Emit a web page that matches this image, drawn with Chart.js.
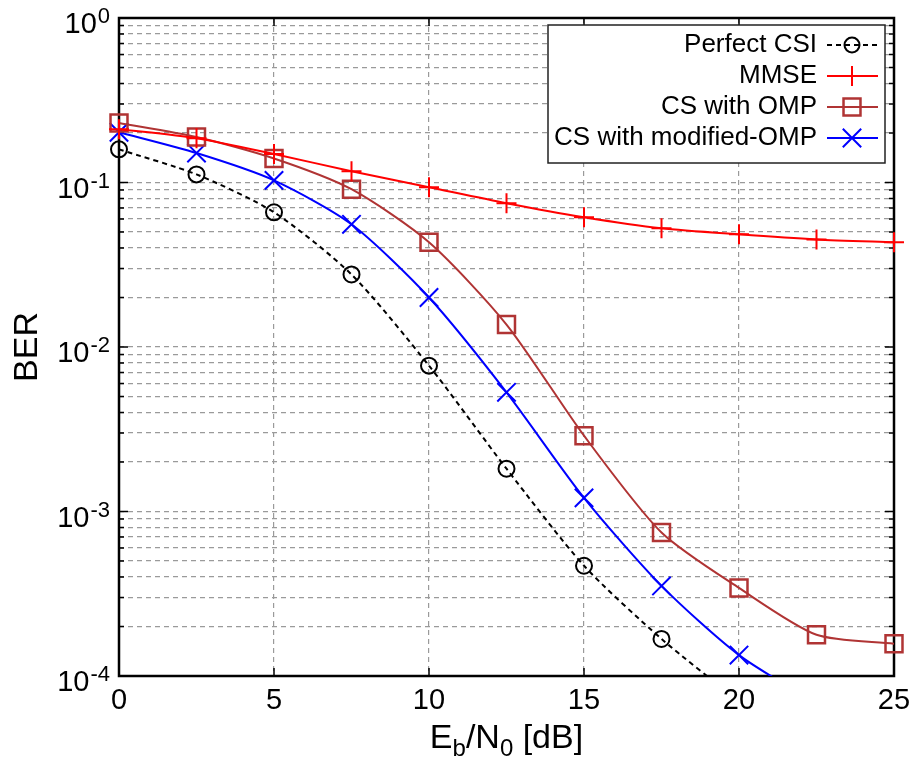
<!DOCTYPE html>
<html>
<head>
<meta charset="utf-8">
<script src="https://cdn.jsdelivr.net/npm/chart.js@4/dist/chart.umd.min.js"></script>
<style>
  html, body { margin: 0; padding: 0; background: #fff; }
  #wrap { width: 919px; height: 760px; position: relative; }
</style>
</head>
<body>
<div id="wrap"><canvas id="ber-chart"></canvas></div>
<script>
// Data
const ebN0 = [0, 2.5, 5, 7.5, 10, 12.5, 15, 17.5, 20, 22.5, 25];
const perfectCsi = [0.159, 0.112, 0.0659, 0.0276, 0.0077, 0.00182, 0.000468, 0.000168, 0.00007];
const mmse = [0.211, 0.186, 0.149, 0.117, 0.0936, 0.0748, 0.0615, 0.0527, 0.0484, 0.0451, 0.0433];
const csOmp = [0.23, 0.189, 0.14, 0.091, 0.0433, 0.0137, 0.00289, 0.000745, 0.000343, 0.000178, 0.000157];
const csModOmp = [0.202, 0.151, 0.103, 0.0557, 0.02, 0.0053, 0.00121, 0.000353, 0.000134, 0.000068];

const seriesNames = ["Perfect CSI", "MMSE", "CS with OMP", "CS with modified-OMP"];
const xTicks = [0, 5, 10, 15, 20, 25];
const yDecades = [0, -1, -2, -3, -4];
const yTickLabels = ["10", "10", "10", "10", "10"];
const yTickExps = ["0", "-1", "-2", "-3", "-4"];

const FONT = "'Liberation Sans', Arial, sans-serif";
const BROWN = "#b03434";

const toPoints = (ys) => ys.map((y, i) => ({ x: ebN0[i], y: y }));

const CLIP = { left: 20, right: 20, top: 20, bottom: 0 };

const DATA = {
  datasets: [
    {
      label: seriesNames[0],
      data: toPoints(perfectCsi),
      borderColor: "#000",
      borderWidth: 2,
      borderDash: [5, 4],
      pointStyle: "circle",
      pointRadius: 8,
      pointBorderWidth: 2,
      pointBackgroundColor: "rgba(0,0,0,0)",
      pointBorderColor: "#000",
      tension: 0.25,
      clip: CLIP,
    },
    {
      label: seriesNames[1],
      data: toPoints(mmse),
      borderColor: "#ff0000",
      borderWidth: 2,
      pointStyle: "cross",
      pointRadius: 10,
      pointBorderWidth: 2,
      pointBorderColor: "#ff0000",
      tension: 0.25,
      clip: CLIP,
    },
    {
      label: seriesNames[2],
      data: toPoints(csOmp),
      borderColor: BROWN,
      borderWidth: 2,
      pointStyle: "rect",
      pointRadius: 12,
      pointBorderWidth: 2.5,
      pointBackgroundColor: "rgba(0,0,0,0)",
      pointBorderColor: BROWN,
      tension: 0.25,
      clip: CLIP,
    },
    {
      label: seriesNames[3],
      data: toPoints(csModOmp),
      borderColor: "#0000ff",
      borderWidth: 2,
      pointStyle: "crossRot",
      pointRadius: 13,
      pointBorderWidth: 2,
      pointBorderColor: "#0000ff",
      tension: 0.25,
      clip: CLIP,
    },
  ],
};

function drawMarker(ctx, ds, x, y) {
  ctx.save();
  ctx.strokeStyle = ds.pointBorderColor;
  ctx.lineWidth = ds.pointBorderWidth;
  ctx.setLineDash([]);
  const r = ds.pointRadius;
  ctx.beginPath();
  if (ds.pointStyle === "circle") {
    ctx.arc(x, y, r, 0, Math.PI * 2);
  } else if (ds.pointStyle === "rect") {
    const s = r * Math.SQRT1_2;
    ctx.rect(x - s, y - s, 2 * s, 2 * s);
  } else if (ds.pointStyle === "cross") {
    ctx.moveTo(x - r, y); ctx.lineTo(x + r, y);
    ctx.moveTo(x, y - r); ctx.lineTo(x, y + r);
  } else {
    const s = r * Math.SQRT1_2;
    ctx.moveTo(x - s, y - s); ctx.lineTo(x + s, y + s);
    ctx.moveTo(x - s, y + s); ctx.lineTo(x + s, y - s);
  }
  ctx.stroke();
  ctx.restore();
}

// Frame, inward ticks, custom tick labels, titles and legend
const decorations = {
  id: "decorations",
  beforeDatasetsDraw(chart) {
    const { ctx, chartArea: a, scales } = chart;
    const xs = scales.x, ys = scales.y;
    ctx.save();

    // inward tick marks
    ctx.strokeStyle = "#000";
    ctx.lineWidth = 1.5;
    ctx.beginPath();
    xTicks.forEach((v) => {
      const px = xs.getPixelForValue(v);
      ctx.moveTo(px, a.bottom); ctx.lineTo(px, a.bottom - 8);
      ctx.moveTo(px, a.top); ctx.lineTo(px, a.top + 8);
    });
    yDecades.forEach((d) => {
      for (let m = 1; m <= 9; m++) {
        const v = m * Math.pow(10, d);
        if (v > 1.0001 || v < 0.99e-4) continue;
        const py = ys.getPixelForValue(v);
        const len = m === 1 ? 9 : 5;
        ctx.moveTo(a.left, py); ctx.lineTo(a.left + len, py);
        ctx.moveTo(a.right, py); ctx.lineTo(a.right - len, py);
      }
    });
    ctx.stroke();

    // frame
    ctx.lineWidth = 2.5;
    ctx.strokeRect(a.left, a.top, a.right - a.left, a.bottom - a.top);
    ctx.restore();
  },
  afterDraw(chart) {
    const { ctx, chartArea: a, scales } = chart;
    const ys = scales.y;
    ctx.save();

    // y tick labels with superscript exponent
    ctx.fillStyle = "#000";
    ctx.textBaseline = "alphabetic";
    yDecades.forEach((d, i) => {
      const py = ys.getPixelForValue(Math.pow(10, d));
      ctx.font = "22px " + FONT;
      const ew = ctx.measureText(yTickExps[i]).width;
      const right = a.left - 9;
      ctx.textAlign = "right";
      ctx.fillText(yTickExps[i], right, py + 5);
      ctx.font = "29px " + FONT;
      ctx.fillText(yTickLabels[i], right - ew - 1, py + 15);
    });

    // y axis title
    ctx.save();
    ctx.translate(37, (a.top + a.bottom) / 2);
    ctx.rotate(-Math.PI / 2);
    ctx.font = "34px " + FONT;
    ctx.textAlign = "center";
    ctx.fillText("BER", 0, 0);
    ctx.restore();

    // x axis title: E_b/N_0 [dB]
    const parts = [
      ["E", 34, 0], ["b", 24, 8], ["/N", 34, 0], ["0", 24, 8], [" [dB]", 34, 0],
    ];
    let total = 0;
    parts.forEach((p) => { ctx.font = p[1] + "px " + FONT; total += ctx.measureText(p[0]).width; });
    let cx = (a.left + a.right) / 2 - total / 2;
    ctx.textAlign = "left";
    parts.forEach((p) => {
      ctx.font = p[1] + "px " + FONT;
      ctx.fillText(p[0], cx, 748 + p[2]);
      cx += ctx.measureText(p[0]).width;
    });

    // legend box
    const boxR = a.right - 9, boxT = a.top + 7, boxL = 548, boxB = a.top + 145;
    ctx.fillStyle = "#fff";
    ctx.fillRect(boxL, boxT, boxR - boxL, boxB - boxT);
    ctx.lineWidth = 1.5;
    ctx.strokeStyle = "#222";
    ctx.strokeRect(boxL, boxT, boxR - boxL, boxB - boxT);
    chart.data.datasets.forEach((ds, i) => {
      const rowY = boxT + 20 + i * 31;
      ctx.font = "26px " + FONT;
      ctx.fillStyle = "#000";
      ctx.textAlign = "right";
      ctx.textBaseline = "middle";
      ctx.fillText(ds.label, boxL + 269, rowY);
      ctx.save();
      ctx.strokeStyle = ds.borderColor;
      ctx.lineWidth = ds.borderWidth;
      ctx.setLineDash(ds.borderDash || []);
      ctx.beginPath();
      ctx.moveTo(boxL + 279, rowY);
      ctx.lineTo(boxL + 330, rowY);
      ctx.stroke();
      ctx.restore();
      drawMarker(ctx, Object.assign({}, ds, { pointRadius: i === 0 ? 7.5 : ds.pointRadius }), boxL + 304, rowY);
    });
    ctx.restore();
  },
};

const CONFIG = {
  type: "line",
  data: DATA,
  options: {
    responsive: true,
    maintainAspectRatio: false,
    animation: false,
    layout: { padding: { top: 18, right: 25, left: 0, bottom: 0 } },
    plugins: {
      legend: { display: false },
      tooltip: { enabled: false },
    },
    scales: {
      x: {
        type: "linear",
        min: 0,
        max: 25,
        afterBuildTicks: (scale) => { scale.ticks = xTicks.map((v) => ({ value: v })); },
        afterFit: (scale) => { scale.height = 84; },
        border: { display: false, dash: [5, 4] },
        grid: { color: "#9a9a9a", lineWidth: 1.2, drawTicks: false },
        ticks: {
          color: "#000",
          padding: 8,
          maxRotation: 0,
          font: { family: FONT, size: 29 },
        },
      },
      y: {
        type: "logarithmic",
        min: 1e-4,
        max: 1,
        afterBuildTicks: (scale) => {
          const t = [];
          yDecades.forEach((d) => {
            for (let m = 1; m <= 9; m++) {
              const v = m * Math.pow(10, d);
              if (v <= 1.0001 && v >= 0.99e-4) t.push({ value: v });
            }
          });
          scale.ticks = t;
        },
        afterFit: (scale) => { scale.width = 119; },
        border: { display: false, dash: [5, 4] },
        grid: { color: "#9a9a9a", lineWidth: 1.2, drawTicks: false },
        ticks: { display: false },
      },
    },
  },
  plugins: [decorations],
};

const CHART_WRAPPER = document.getElementById("ber-chart");
if (CHART_WRAPPER) {
  new Chart(CHART_WRAPPER, CONFIG);
}
</script>
</body>
</html>
